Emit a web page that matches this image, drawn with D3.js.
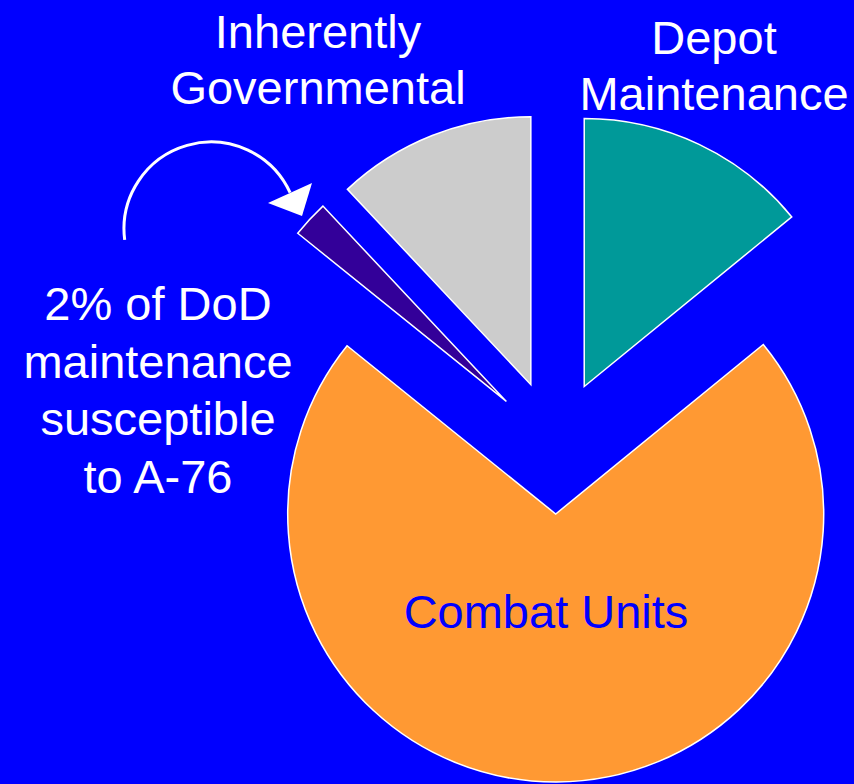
<!DOCTYPE html>
<meta charset="UTF-8">
<style>
body { margin: 0; background: #0000ff; }
svg { display: block; }
.label { font-family: Arial, "Liberation Sans", sans-serif; font-size: 47px; fill: white; }
</style>
<body>
<script src="https://cdn.jsdelivr.net/npm/d3@7/dist/d3.min.js"></script>
<script>

// slice shares (percent), clockwise from 12 o'clock
var categories = ["Depot Maintenance", "Combat Units", "A-76 Susceptible", "Inherently Governmental"];
var shares = [14.1, 71.7, 2.2, 12.0];
var colors = ["#009999", "#ff9933", "#330099", "#cccccc"];

// label text lines
var depotLines = ["Depot", "Maintenance"];
var govLines = ["Inherently", "Governmental"];
var noteLines = ["2% of DoD", "maintenance", "susceptible", "to A-76"];

var width = 854, height = 784;
var cx = 555.5, cy = 447, radius = 268, explode = 67;

var svg = d3.select("body").append("svg")
    .attr("width", width)
    .attr("height", height);

svg.append("rect")
    .attr("width", width)
    .attr("height", height)
    .attr("fill", "#0000ff");

var pie = d3.pie().sort(null).value(function(d) { return d; });
var arc = d3.arc().innerRadius(0).outerRadius(radius);

var arcs = pie(shares);

var g = svg.append("g")
    .attr("transform", "translate(" + cx + "," + cy + ")");

g.selectAll("path.slice")
    .data(arcs)
  .enter().append("path")
    .attr("class", "slice")
    .attr("d", arc)
    .attr("fill", function(d, i) { return colors[i]; })
    .attr("stroke", "white")
    .attr("stroke-width", 1.5)
    .attr("stroke-linejoin", "miter")
    .attr("transform", function(d) {
      var a = (d.startAngle + d.endAngle) / 2;
      return "translate(" + (explode * Math.sin(a)) + "," + (-explode * Math.cos(a)) + ")";
    });

// label inside the big slice
svg.append("text")
    .attr("class", "label")
    .attr("x", 546)
    .attr("y", 628)
    .attr("text-anchor", "middle")
    .style("fill", "#0000ff")
    .text("Combat Units");

function block(lines, x, y, step) {
  var t = svg.append("text")
      .attr("class", "label")
      .attr("text-anchor", "middle");
  t.selectAll("tspan")
      .data(lines)
    .enter().append("tspan")
      .attr("x", x)
      .attr("y", function(d, i) { return y + i * step; })
      .text(function(d) { return d; });
}

block(govLines, 318, 48, 56);
block(depotLines, 714, 54, 56);
block(noteLines, 158, 320, 57.7);

// curved arrow pointing at the small slice
var ac = {x: 211, y: 229, r: 87};
var p = d3.path();
p.arc(ac.x, ac.y, ac.r, Math.PI - 0.126, 2 * Math.PI - 0.43);
svg.append("path")
    .attr("d", p.toString())
    .attr("fill", "none")
    .attr("stroke", "white")
    .attr("stroke-width", 3);

svg.append("path")
    .attr("d", "M268,203 L312,183 L302,216 Z")
    .attr("fill", "white");

</script>
</body>
